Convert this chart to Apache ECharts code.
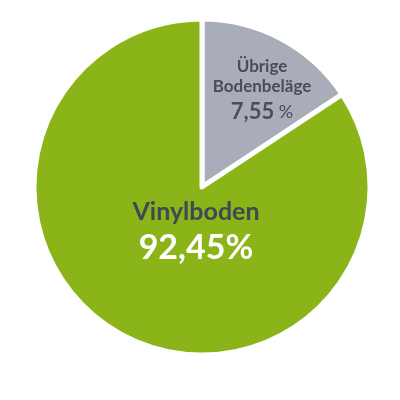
<!DOCTYPE html>
<html>
<head>
<meta charset="utf-8">
<script src="https://cdn.jsdelivr.net/npm/echarts@6/dist/echarts.min.js"></script>
<style>
  html, body { margin: 0; padding: 0; background: #fff; }
  #chart { width: 400px; height: 400px; }
</style>
</head>
<body>
<div id="chart"></div>
<script>
// Kategorien und Werte
const categories = ['Übrige\nBodenbeläge', 'Vinylboden']
const percentText = ['7,55', '92,45']
// Anteil wie im Bild gezeichnet (Segment ist nicht massstabsgetreu)
const sliceShare = [15.7, 84.3]
const colors = ['#a9acb9', '#8ab418']

let chart = echarts.init(document.getElementById('chart'))

let data = []
for (let i = 0; i < categories.length; i++) {
    data.push({
        name: categories[i],
        value: sliceShare[i],
        itemStyle: {color: colors[i]}
    })
}
// Beschriftung je Segment
data[0].label = {
    formatter: '{n|' + categories[0] + '}\n{p|' + percentText[0] + '}{s| %}',
    rich: {
        n: {fontSize: 17, fontWeight: 'bold', color: '#484d5a', lineHeight: 20, fontFamily: 'Lato'},
        p: {fontSize: 22, fontWeight: 'bold', color: '#484d5a', lineHeight: 30, fontFamily: 'Lato'},
        s: {fontSize: 18, color: '#484d5a', lineHeight: 30, fontFamily: 'Lato'}
    }
}
data[1].label = {
    formatter: '{n|' + categories[1] + '}\n{p|' + percentText[1] + '%}',
    rich: {
        n: {fontSize: 25, fontWeight: 'bold', color: '#3f4955', lineHeight: 34, fontFamily: 'Lato'},
        p: {fontSize: 34, fontWeight: 'bold', color: '#ffffff', lineHeight: 38, fontFamily: 'Lato'}
    }
}

chart.setOption({
    animation: false,
    series: [{
        type: 'pie',
        center: [202, 187],
        radius: 168,
        startAngle: 90,
        clockwise: true,
        data: data,
        itemStyle: {borderColor: '#ffffff', borderWidth: 5},
        label: {show: true, position: 'inside', align: 'center'},
        labelLine: {show: false},
        labelLayout: function (p) {
            if (p.dataIndex === 0) return {x: 262, y: 92}
            return {x: 196, y: 231}
        }
    }]
})
</script>
</body>
</html>
